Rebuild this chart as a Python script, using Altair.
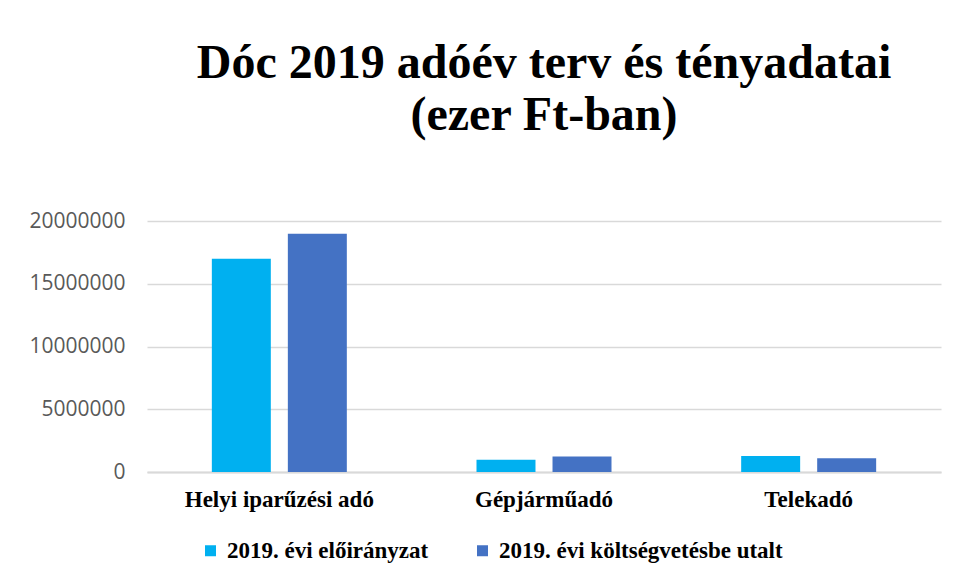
import altair as alt
import pandas as pd

categories = ["Helyi iparűzési adó", "Gépjárműadó", "Telekadó"]
series_names = ["2019. évi előirányzat", "2019. évi költségvetésbe utalt"]
eloiranyzat = [17000000, 980000, 1280000]
utalt = [18990000, 1240000, 1100000]
colors = ["#00B0F0", "#4472C4"]
y_ticks = [0, 5000000, 10000000, 15000000, 20000000]

rows = []
for i, c in enumerate(categories):
    rows.append({"kategoria": c, "sorozat": series_names[0], "ertek": eloiranyzat[i]})
    rows.append({"kategoria": c, "sorozat": series_names[1], "ertek": utalt[i]})
df = pd.DataFrame(rows)

chart = alt.Chart(df).mark_bar().encode(
    x=alt.X("kategoria:N", sort=categories, title=None,
            scale=alt.Scale(paddingInner=0, paddingOuter=0),
            axis=alt.Axis(labelAngle=0, labelFont="Liberation Serif", labelFontWeight="bold",
                          labelFontSize=23, labelColor="#000000", ticks=False, tickSize=0,
                          labelPadding=16, labelLimit=500, domainColor="#D9D9D9", domainWidth=2,
                          grid=False)),
    xOffset=alt.XOffset("sorozat:N", sort=series_names,
                        scale=alt.Scale(paddingInner=0.224, paddingOuter=0.853)),
    y=alt.Y("ertek:Q", title=None,
            scale=alt.Scale(domain=[0, 20000000], nice=False),
            axis=alt.Axis(values=y_ticks, format="d", labelFont="Open Sans", labelFontSize=21,
                          labelColor="#595959", ticks=False, tickSize=0, labelPadding=22,
                          domain=False, gridColor="#D9D9D9", gridWidth=1.5)),
    color=alt.Color("sorozat:N", sort=series_names,
                    scale=alt.Scale(domain=series_names, range=colors),
                    legend=alt.Legend(title=None, orient="none", direction="horizontal",
                                      legendX=52, legendY=318, symbolType="square",
                                      symbolSize=121, symbolStrokeWidth=0, labelFont="Liberation Serif",
                                      labelFontWeight="bold", labelFontSize=23, labelColor="#000000",
                                      labelOffset=5, columnPadding=42, labelLimit=400, padding=0)),
).properties(
    width=794,
    height=251,
    title=alt.TitleParams(text=["Dóc 2019 adóév terv és tényadatai", "(ezer Ft-ban)"],
                          font="Liberation Serif", fontSize=48, fontWeight="bold",
                          color="#000000", anchor="middle", lineHeight=52, offset=70),
    autosize=alt.AutoSizeParams(type="none"),
    padding={"left": 139, "top": 213, "right": 9, "bottom": 100},
).configure(background="white").configure_view(strokeWidth=0)

chart.save("out.html", embed_options={"renderer": "svg", "actions": False})
